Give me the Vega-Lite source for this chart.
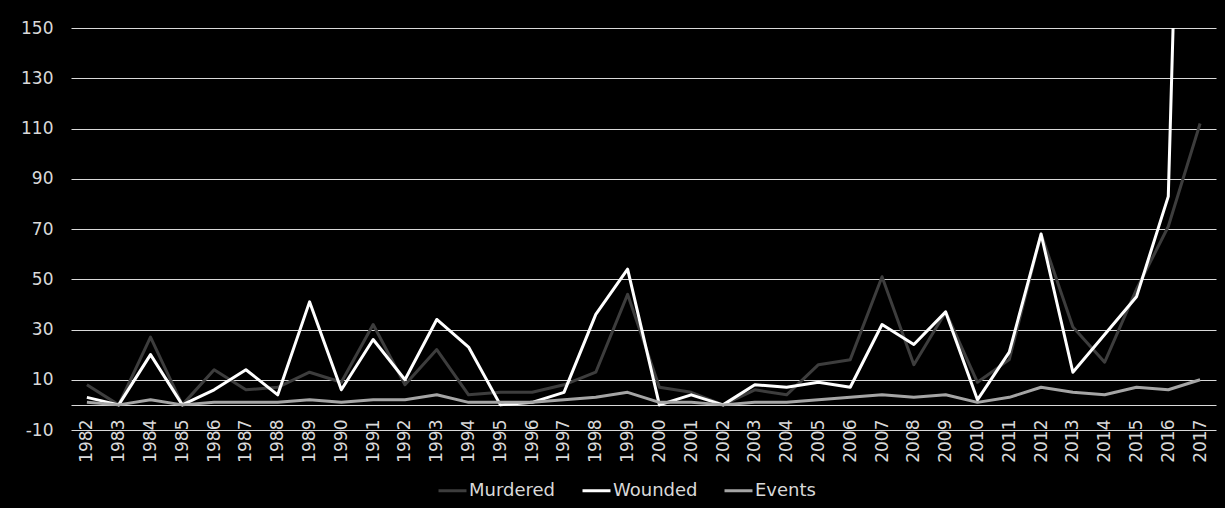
{
  "$schema": "https://vega.github.io/schema/vega-lite/v6.json",
  "width": 1145,
  "height": 402,
  "autosize": {"type": "none"},
  "padding": {"left": 71, "top": 28, "right": 9, "bottom": 78},
  "background": "#000000",
  "config": {
    "view": {"stroke": null},
    "font": "DejaVu Sans",
    "axis": {"labelFont": "DejaVu Sans", "labelFontSize": 17, "labelColor": "#d9d9d9"},
    "legend": {"labelFont": "DejaVu Sans", "labelFontSize": 18, "labelColor": "#d9d9d9"}
  },
  "data": {
    "values": [
      {"year": "1982", "Murdered": 8, "Wounded": 3, "Events": 1},
      {"year": "1983", "Murdered": 0, "Wounded": 0, "Events": 0},
      {"year": "1984", "Murdered": 27, "Wounded": 20, "Events": 2},
      {"year": "1985", "Murdered": 0, "Wounded": 0, "Events": 0},
      {"year": "1986", "Murdered": 14, "Wounded": 6, "Events": 1},
      {"year": "1987", "Murdered": 6, "Wounded": 14, "Events": 1},
      {"year": "1988", "Murdered": 7, "Wounded": 4, "Events": 1},
      {"year": "1989", "Murdered": 13, "Wounded": 41, "Events": 2},
      {"year": "1990", "Murdered": 9, "Wounded": 6, "Events": 1},
      {"year": "1991", "Murdered": 32, "Wounded": 26, "Events": 2},
      {"year": "1992", "Murdered": 8, "Wounded": 10, "Events": 2},
      {"year": "1993", "Murdered": 22, "Wounded": 34, "Events": 4},
      {"year": "1994", "Murdered": 4, "Wounded": 23, "Events": 1},
      {"year": "1995", "Murdered": 5, "Wounded": 0, "Events": 1},
      {"year": "1996", "Murdered": 5, "Wounded": 1, "Events": 1},
      {"year": "1997", "Murdered": 8, "Wounded": 5, "Events": 2},
      {"year": "1998", "Murdered": 13, "Wounded": 36, "Events": 3},
      {"year": "1999", "Murdered": 44, "Wounded": 54, "Events": 5},
      {"year": "2000", "Murdered": 7, "Wounded": 0, "Events": 1},
      {"year": "2001", "Murdered": 5, "Wounded": 4, "Events": 1},
      {"year": "2002", "Murdered": 0, "Wounded": 0, "Events": 0},
      {"year": "2003", "Murdered": 6, "Wounded": 8, "Events": 1},
      {"year": "2004", "Murdered": 4, "Wounded": 7, "Events": 1},
      {"year": "2005", "Murdered": 16, "Wounded": 9, "Events": 2},
      {"year": "2006", "Murdered": 18, "Wounded": 7, "Events": 3},
      {"year": "2007", "Murdered": 51, "Wounded": 32, "Events": 4},
      {"year": "2008", "Murdered": 16, "Wounded": 24, "Events": 3},
      {"year": "2009", "Murdered": 37, "Wounded": 37, "Events": 4},
      {"year": "2010", "Murdered": 9, "Wounded": 2, "Events": 1},
      {"year": "2011", "Murdered": 18, "Wounded": 21, "Events": 3},
      {"year": "2012", "Murdered": 68, "Wounded": 68, "Events": 7},
      {"year": "2013", "Murdered": 31, "Wounded": 13, "Events": 5},
      {"year": "2014", "Murdered": 17, "Wounded": 28, "Events": 4},
      {"year": "2015", "Murdered": 46, "Wounded": 43, "Events": 7},
      {"year": "2016", "Murdered": 71, "Wounded": 83, "Events": 6},
      {"year": "2017", "Murdered": 112, "Wounded": 530, "Events": 10}
    ]
  },
  "transform": [
    {"fold": ["Murdered", "Wounded", "Events"], "as": ["series", "value"]}
  ],
  "mark": {"type": "line", "strokeWidth": 3, "strokeJoin": "round", "clip": true},
  "encoding": {
    "x": {
      "field": "year",
      "type": "ordinal",
      "title": null,
      "axis": {
        "labelAngle": -90,
        "offset": -25,
        "ticks": false,
        "labelPadding": 14,
        "domainColor": "#d9d9d9",
        "domainWidth": 1,
        "grid": false
      }
    },
    "y": {
      "field": "value",
      "type": "quantitative",
      "title": null,
      "scale": {"domain": [-10, 150], "nice": false, "zero": false},
      "axis": {
        "values": [-10, 10, 30, 50, 70, 90, 110, 130, 150],
        "labelExpr": "'' + datum.value",
        "grid": true,
        "gridColor": "#d9d9d9",
        "gridWidth": 1,
        "domain": false,
        "ticks": false,
        "labelPadding": 18
      }
    },
    "color": {
      "field": "series",
      "type": "nominal",
      "scale": {"domain": ["Murdered", "Wounded", "Events"], "range": ["#3d3d3d", "#ffffff", "#a5a5a5"]},
      "legend": {
        "title": null,
        "orient": "none",
        "direction": "horizontal",
        "legendX": 366,
        "legendY": 447,
        "symbolType": "stroke",
        "symbolStrokeWidth": 3,
        "symbolSize": 784,
        "labelOffset": 1,
        "columnPadding": 20
      }
    }
  }
}
